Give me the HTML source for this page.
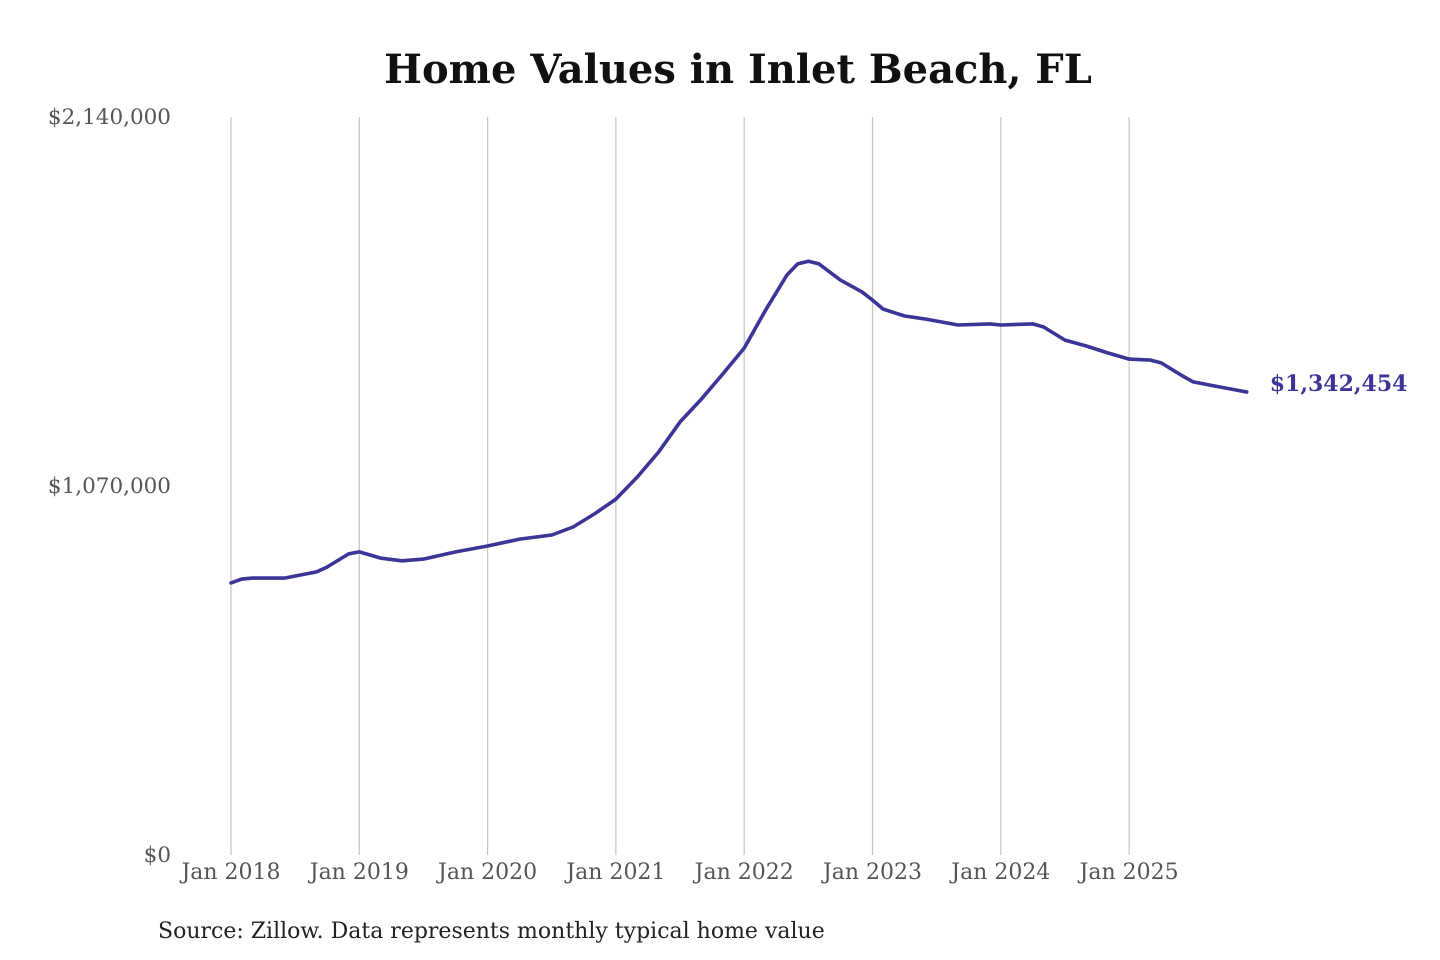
<!DOCTYPE html>
<html><head><meta charset="utf-8"><style>
html,body{margin:0;padding:0;background:#fff;width:1440px;height:960px;overflow:hidden}
svg{display:block}
</style></head><body>
<svg id="chart" width="1440" height="960" xmlns="http://www.w3.org/2000/svg" font-family="'DejaVu Serif','Liberation Serif',serif">
<text x="738" y="83" text-anchor="middle" font-size="40" font-weight="bold" fill="#111">Home Values in Inlet Beach, FL</text>
<g id="grid"></g><g id="yaxis"></g><g id="xaxis"></g>
<path id="line" fill="none" stroke="#3b3598" stroke-width="3.6" stroke-linejoin="round" stroke-linecap="round"/>
<text id="endlabel" font-size="22" font-weight="bold" fill="#3b3598"></text>
<text x="158" y="938" font-size="22" fill="#222">Source: Zillow. Data represents monthly typical home value</text>
</svg>
<script>
const months=[0,1,2,5,8,9,11,12,14,16,18,21,24,27,30,32,34,36,38,40,42,44,46,48,50,52,53,54,55,57,59,60,61,63,65,68,71,72,75,76,78,80,82,84,86,87,89,90,92,95];
const values=[789,800,803,803,821,835,873,879,861,853,858,879,896,916,928,951,989,1032,1096,1169,1256,1322,1395,1470,1580,1682,1714,1722,1714,1667,1633,1609,1583,1563,1554,1537,1540,1537,1540,1531,1493,1476,1456,1438,1435,1427,1389,1372,1360,1342.454];
const yTicks=[0,1070,2140];
const yTickLabels=["$0","$1,070,000","$2,140,000"];
const xTickMonths=[0,12,24,36,48,60,72,84];
const xTickLabels=["Jan 2018","Jan 2019","Jan 2020","Jan 2021","Jan 2022","Jan 2023","Jan 2024","Jan 2025"];
const endLabel="$1,342,454";
const X0=231,XPM=128.3/12,YB=855,YT=117,YMAX=2140;
const xs=m=>X0+m*XPM, ys=v=>YB-(v/YMAX)*(YB-YT);
const NS="http://www.w3.org/2000/svg";
const grid=document.getElementById('grid'),ya=document.getElementById('yaxis'),xa=document.getElementById('xaxis');
xTickMonths.forEach((m,i)=>{
  const l=document.createElementNS(NS,'line');
  
  
  l.setAttribute('x1',xs(m));l.setAttribute('x2',xs(m));l.setAttribute('y1',YT);l.setAttribute('y2',YB);
  l.setAttribute('stroke','#c4c4c4');l.setAttribute('stroke-width','1.2');grid.appendChild(l);
  const t=document.createElementNS(NS,'text');
  
  
  t.setAttribute('x',xs(m));t.setAttribute('y',879);t.setAttribute('text-anchor','middle');
  t.setAttribute('font-size','22');t.setAttribute('fill','#555');t.textContent=xTickLabels[i];xa.appendChild(t);
});
yTicks.forEach((v,i)=>{
  const t=document.createElementNS(NS,'text');
  
  
  t.setAttribute('x',171);t.setAttribute('y',ys(v)+7);t.setAttribute('text-anchor','end');
  t.setAttribute('font-size','21.5');t.setAttribute('fill','#555');t.textContent=yTickLabels[i];ya.appendChild(t);
});
let d='';
months.forEach((m,i)=>{d+=(i?'L':'M')+xs(m).toFixed(1)+','+ys(values[i]).toFixed(1);});
document.getElementById('line').setAttribute('d',d);
const el=document.getElementById('endlabel');
const lm=months[months.length-1],lv=values[values.length-1];
el.setAttribute('x',xs(lm)+23);el.setAttribute('y',ys(lv)-1);el.textContent=endLabel;
</script>
</body></html>
